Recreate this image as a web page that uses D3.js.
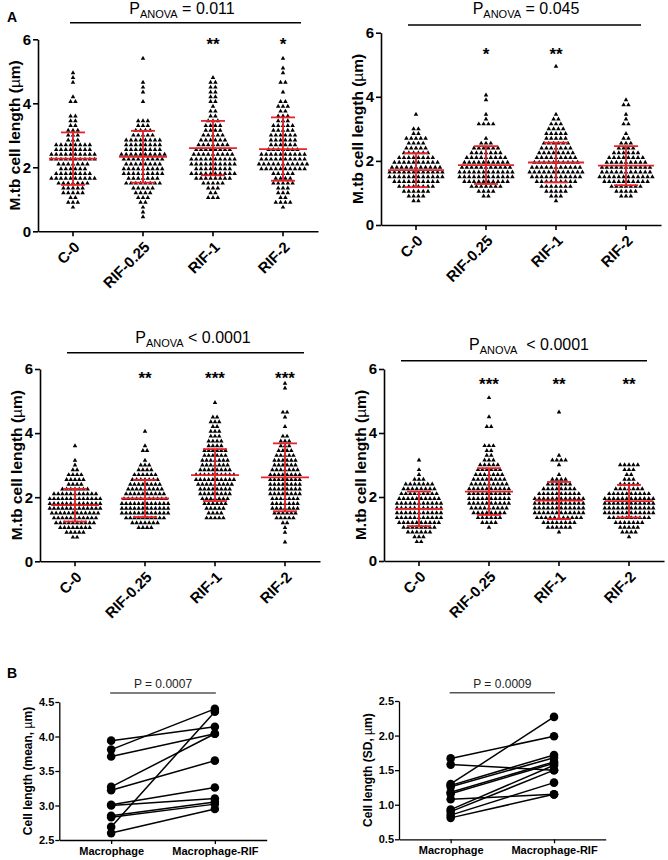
<!DOCTYPE html>
<html><head><meta charset="utf-8">
<script src="https://cdn.jsdelivr.net/npm/d3@7"></script>
<style>body{margin:0;background:#fff} svg{display:block;font-family:"Liberation Sans",Arial,sans-serif}</style>
</head><body><svg id="c" width="668" height="860"></svg>
<script>
// ---------------- DATA ----------------
const categories = ["C-0", "RIF-0.25", "RIF-1", "RIF-2"];
// each scatter group is stored as counts of cells per length row (µm): row i = rowStart + i*rowStep
const rowStart = 0.45, rowStep = 0.15;

const p1Counts = [
  [0,0,1,3,2,5,5,7,10,8,6,7,10,10,8,8,3,3,3,2,2,2,0,0,2,1,0,0,1,1,1],
  [1,1,1,2,3,4,5,8,7,9,9,8,9,10,8,8,8,5,4,3,3,0,0,0,1,0,1,1,1,0,0,0,0,1],
  [0,0,0,0,3,2,3,5,8,10,8,10,10,9,8,7,6,5,4,4,3,2,2,1,2,2,2,2,2,1],
  [0,0,1,4,2,3,3,5,4,5,10,11,10,10,7,6,6,6,5,5,3,3,2,3,2,0,1,0,2,0,1,1,0,1]
];
const p1Means = [2.27, 2.33, 2.60, 2.57];
const p1SDs = [0.82, 0.81, 0.85, 0.99];
const p1Stars = ["", "", "**", "*"];

const p2Counts = [
  [0,0,2,4,6,8,10,12,12,11,10,8,6,5,4,5,2,2,0,0,1],
  [0,0,0,2,4,7,10,12,12,11,10,9,7,6,3,1,0,0,4,1,1,0,0,1,1],
  [0,0,1,3,5,7,9,11,12,11,10,9,8,7,6,5,5,4,3,2,1,0,0,0,0,0,0,0,0,0,1],
  [0,0,0,3,5,7,10,12,11,11,9,8,6,4,3,2,1,0,2,1,1,0,2,1]
];
const p2Means = [1.71, 1.87, 1.95, 1.85];
const p2SDs = [0.53, 0.59, 0.62, 0.61];
const p2Stars = ["", "*", "**", ""];

const p3Counts = [
  [0,0,2,5,8,10,11,12,13,13,13,11,7,4,5,4,2,1,1,0,0,1],
  [0,0,0,0,4,7,10,12,12,12,11,10,9,8,7,6,4,3,1,0,2,1,0,0,1],
  [0,0,0,0,0,0,5,4,5,6,7,8,8,9,10,10,8,7,7,6,6,4,4,3,3,2,3,2,0,0,1],
  [0,1,0,1,1,2,5,6,7,7,7,8,8,8,8,8,7,6,6,5,4,3,3,2,0,1,0,1,2,0,0,0,0,1,1]
];
const p3Means = [1.75, 1.96, 2.69, 2.62];
const p3SDs = [0.51, 0.58, 0.81, 1.06];
const p3Stars = ["", "**", "***", "***"];

const p4Counts = [
  [0,2,3,6,8,10,11,11,11,11,10,9,8,7,3,1,1,0,1],
  [0,0,0,0,1,4,6,8,9,10,10,10,10,9,8,7,6,5,3,2,2,3,0,0,0,2,0,1,0,0,0,1],
  [0,0,0,1,6,8,11,12,12,12,12,10,8,6,4,1,0,1,4,1,0,0,0,0,0,0,0,0,1],
  [0,0,1,4,5,7,10,12,12,12,12,10,7,5,3,2,3,5]
];
const p4Means = [1.63, 2.17, 1.89, 1.87];
const p4SDs = [0.54, 0.73, 0.58, 0.51];
const p4Stars = ["", "***", "**", "**"];

const anovaTitles = [" = 0.011", " = 0.045", " < 0.0001", "  < 0.0001"];
const yTicksA = [0, 2, 4, 6];

const pairCategories = ["Macrophage", "Macrophage-RIF"];
const meanMacrophage    = [3.94, 3.81, 3.71, 3.27, 3.22, 3.01, 3.00, 2.85, 2.83, 2.69, 2.60];
const meanMacrophageRIF = [4.14, 4.40, 4.04, 4.04, 3.65, 3.26, 3.10, 3.05, 3.02, 4.36, 2.95];
const sdMacrophage    = [1.67, 1.58, 1.30, 1.28, 1.26, 1.18, 1.16, 1.08, 0.93, 0.90, 0.85, 0.81];
const sdMacrophageRIF = [1.99, 1.50, 2.27, 1.72, 1.68, 1.62, 1.60, 1.15, 1.57, 1.50, 1.32, 1.15];
const meanTicks = [2.5, 3.0, 3.5, 4.0, 4.5];
const sdTicks = [0.5, 1.0, 1.5, 2.0, 2.5];
const pairP = ["P = 0.0007", "P = 0.0009"];

// ---------------- DRAWING ----------------
const svg = d3.select("#c");
const RED = "#e8232b";

function styleAxis(g, w) {
  g.selectAll(".domain").attr("stroke", "#000").attr("stroke-width", w);
  g.selectAll(".tick line").attr("stroke", "#000").attr("stroke-width", w);
}

function dotPanel(L, counts, means, sds, stars, titleTail) {
  const x = d3.scaleBand().domain(categories).range([L.x0, L.x0 + 280]);
  const y = d3.scaleLinear().domain([0, 6]).range([L.y0, L.y6]);
  const g = svg.append("g");

  const ya = g.append("g").attr("transform", `translate(${L.x0},0)`)
    .call(d3.axisLeft(y).tickValues(yTicksA).tickFormat(d3.format("d")).tickSize(5).tickSizeOuter(0).tickPadding(2));
  styleAxis(ya, 1.6);
  ya.selectAll("text").attr("font-size", 15).attr("font-weight", "bold").attr("fill", "#000");

  const xa = g.append("g").attr("transform", `translate(0,${L.y0})`)
    .call(d3.axisBottom(x).tickSize(5).tickSizeOuter(0).tickFormat(""));
  styleAxis(xa, 1.6);
  g.selectAll(null).data(categories).enter().append("text")
    .attr("transform", d => `translate(${x(d) + x.bandwidth() / 2 + 4},${L.y0 + 13}) rotate(-45)`)
    .attr("text-anchor", "end").attr("dy", "0.35em")
    .attr("font-size", 15).attr("font-weight", "bold").text(d => d);

  // y label
  const yl = g.append("text")
    .attr("transform", `translate(${L.x0 - 18},${(L.y0 + L.y6) / 2}) rotate(-90)`)
    .attr("text-anchor", "middle").attr("font-size", 15.5).attr("font-weight", "bold");
  yl.append("tspan").text("M.tb cell length (");
  yl.append("tspan").attr("font-weight", "normal").text("\u00b5");
  yl.append("tspan").text("m)");

  // points
  const pts = [];
  counts.forEach((row, ci) => {
    const cx = x(categories[ci]) + x.bandwidth() / 2;
    row.forEach((n, ri) => {
      const v = rowStart + ri * rowStep;
      for (let j = 0; j < n; j++) pts.push({ x: cx + (j - (n - 1) / 2) * L.dx, y: y(v) });
    });
  });
  g.selectAll(null).data(pts).enter().append("path")
    .attr("d", d3.symbol(d3.symbolTriangle, 9))
    .attr("transform", d => `translate(${d.x},${d.y})`).attr("fill", "#000");

  // mean +/- SD
  categories.forEach((c, i) => {
    const cx = x(c) + x.bandwidth() / 2;
    const m = means[i], s = sds[i];
    const eg = g.append("g").attr("stroke", RED).attr("stroke-width", 1.8);
    eg.append("line").attr("x1", cx).attr("x2", cx).attr("y1", y(m - s)).attr("y2", y(m + s));
    eg.append("line").attr("x1", cx - L.cap).attr("x2", cx + L.cap).attr("y1", y(m + s)).attr("y2", y(m + s));
    eg.append("line").attr("x1", cx - L.cap).attr("x2", cx + L.cap).attr("y1", y(m - s)).attr("y2", y(m - s));
    eg.append("line").attr("x1", cx - L.meanHalf).attr("x2", cx + L.meanHalf).attr("y1", y(m)).attr("y2", y(m));
    if (stars[i]) g.append("text").attr("x", cx).attr("y", L.starY).attr("text-anchor", "middle")
      .attr("font-size", 17).attr("font-weight", "bold").text(stars[i]);
  });

  // title
  const t = g.append("text").attr("x", L.titleX).attr("y", L.titleY).attr("text-anchor", "middle").attr("font-size", 16);
  t.append("tspan").text("P");
  t.append("tspan").attr("font-size", 11).attr("dy", 4).text("ANOVA");
  t.append("tspan").attr("dy", -4).attr("xml:space", "preserve").style("white-space", "pre").text(titleTail);
  g.append("line").attr("x1", L.lineX[0]).attr("x2", L.lineX[1]).attr("y1", L.lineY).attr("y2", L.lineY)
    .attr("stroke", "#000").attr("stroke-width", 1.6);
}

const layouts = [
  { x0: 38, y0: 231.3, y6: 39.3, dx: 4.8, cap: 12, meanHalf: 24, starY: 50, titleX: 182, titleY: 14, lineY: 22.7, lineX: [70, 301] },
  { x0: 381, y0: 225, y6: 32.7, dx: 4.8, cap: 12, meanHalf: 28, starY: 60, titleX: 526, titleY: 14, lineY: 25, lineX: [408, 641] },
  { x0: 40, y0: 561.3, y6: 369, dx: 4.2, cap: 12, meanHalf: 24, starY: 384, titleX: 193, titleY: 343, lineY: 352.7, lineX: [67, 304] },
  { x0: 384, y0: 561, y6: 369, dx: 4.4, cap: 12, meanHalf: 24, starY: 390, titleX: 529, titleY: 350, lineY: 360.7, lineX: [401, 647] }
];
dotPanel(layouts[0], p1Counts, p1Means, p1SDs, p1Stars, anovaTitles[0]);
dotPanel(layouts[1], p2Counts, p2Means, p2SDs, p2Stars, anovaTitles[1]);
dotPanel(layouts[2], p3Counts, p3Means, p3SDs, p3Stars, anovaTitles[2]);
dotPanel(layouts[3], p4Counts, p4Means, p4SDs, p4Stars, anovaTitles[3]);

svg.append("text").attr("x", 7).attr("y", 22).attr("font-size", 14).attr("font-weight", "bold").text("A");
svg.append("text").attr("x", 7).attr("y", 678).attr("font-size", 14).attr("font-weight", "bold").text("B");

function pairPanel(L, before, after, domain, ticks, labelWord, ptext) {
  const x = d3.scalePoint().domain(pairCategories).range([L.x0, L.x1]).padding(0.5);
  const y = d3.scaleLinear().domain(domain).range([L.yb, L.yt]);
  const g = svg.append("g");
  const ya = g.append("g").attr("transform", `translate(${L.x0},0)`)
    .call(d3.axisLeft(y).tickValues(ticks).tickFormat(d3.format(".1f")).tickSize(4).tickSizeOuter(0).tickPadding(1));
  styleAxis(ya, 1.3);
  ya.selectAll("text").attr("font-size", 11).attr("font-weight", "bold").attr("fill", "#000");
  const xa = g.append("g").attr("transform", `translate(0,${L.yb})`)
    .call(d3.axisBottom(x).tickSize(4).tickSizeOuter(0).tickPadding(3));
  styleAxis(xa, 1.3);
  xa.selectAll("text").attr("font-size", 11).attr("font-weight", "bold").attr("fill", "#000");

  const yl = g.append("text").attr("transform", `translate(${L.x0 - 27},${(L.yb + L.yt) / 2}) rotate(-90)`)
    .attr("text-anchor", "middle").attr("font-size", 12).attr("font-weight", "bold");
  yl.append("tspan").text(`Cell length (${labelWord},  `);
  yl.append("tspan").attr("font-weight", "normal").text("\u00b5");
  yl.append("tspan").text("m)");

  const pairs = before.map((b, i) => [b, after[i]]);
  g.selectAll(null).data(pairs).enter().append("line")
    .attr("x1", x(pairCategories[0])).attr("x2", x(pairCategories[1]))
    .attr("y1", d => y(d[0])).attr("y2", d => y(d[1]))
    .attr("stroke", "#000").attr("stroke-width", 1.5);
  g.selectAll(null).data(before).enter().append("circle")
    .attr("cx", x(pairCategories[0])).attr("cy", d => y(d)).attr("r", 4.3).attr("fill", "#000");
  g.selectAll(null).data(after).enter().append("circle")
    .attr("cx", x(pairCategories[1])).attr("cy", d => y(d)).attr("r", 4.3).attr("fill", "#000");

  g.append("line").attr("x1", x(pairCategories[0]) - 1).attr("x2", x(pairCategories[1]) + 1)
    .attr("y1", L.pY).attr("y2", L.pY).attr("stroke", "#555").attr("stroke-width", 1.5);
  g.append("text").attr("x", (x(pairCategories[0]) + x(pairCategories[1])) / 2).attr("y", L.pY - 5)
    .attr("text-anchor", "middle").attr("font-size", 12).attr("fill", "#222").text(ptext);
}
pairPanel({ x0: 59.3, x1: 266.7, yb: 840, yt: 702, pY: 693 }, meanMacrophage, meanMacrophageRIF, [2.5, 4.5], meanTicks, "mean", pairP[0]);
pairPanel({ x0: 399, x1: 605.7, yb: 839.3, yt: 701, pY: 692.7 }, sdMacrophage, sdMacrophageRIF, [0.5, 2.5], sdTicks, "SD", pairP[1]);
</script></body></html>
